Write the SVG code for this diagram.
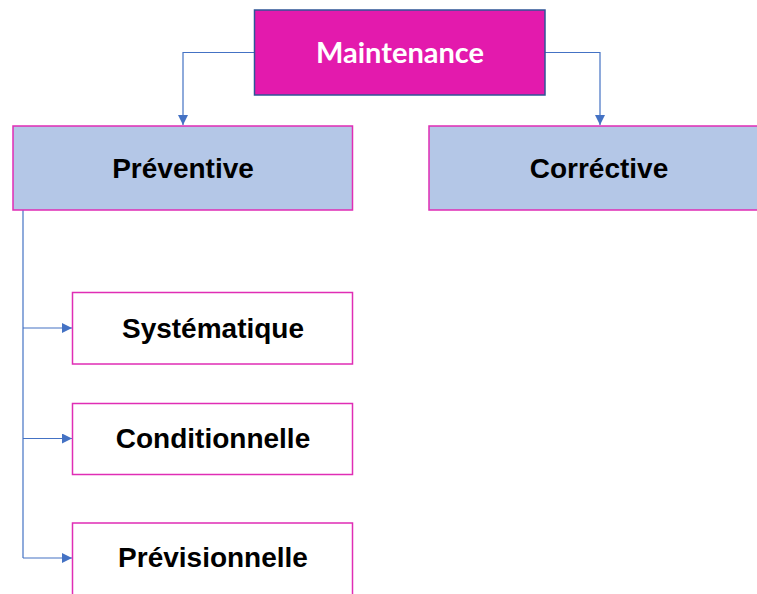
<svg xmlns="http://www.w3.org/2000/svg" width="757" height="594" viewBox="0 0 757 594">
  <style>
    .root { fill: #E31AAD; stroke: #2F5597; stroke-width: 1.5; }
    .branch { fill: #B4C7E7; stroke: #E02DB5; stroke-width: 1.5; }
    .leaf { fill: #FFFFFF; stroke: #E02DB5; stroke-width: 1.5; }
    .lbl { font-family: "Liberation Sans", Arial, sans-serif; font-weight: bold; font-size: 28px; fill: #000000; text-anchor: middle; }
    .rootlbl { font-family: Lato, "Open Sans", sans-serif; font-weight: bold; font-size: 29px; fill: #FFFFFF; text-anchor: middle; }
    .conn { fill: none; stroke: #4472C4; stroke-width: 1.2; }
  </style>
  <defs>
    <marker id="arrow" viewBox="0 0 10 10" refX="10" refY="5" markerWidth="10" markerHeight="10" markerUnits="userSpaceOnUse" orient="auto">
      <path d="M0,0 L10,5 L0,10 Z" fill="#4472C4"/>
    </marker>
  </defs>

  <g id="connectors">
    <path class="conn" d="M254.5,52.5 H183 V125" marker-end="url(#arrow)"/>
    <path class="conn" d="M545,52.5 H600 V125" marker-end="url(#arrow)"/>
    <path class="conn" d="M23,210 V558"/>
    <path class="conn" d="M23,328 H72" marker-end="url(#arrow)"/>
    <path class="conn" d="M23,438.5 H72" marker-end="url(#arrow)"/>
    <path class="conn" d="M23,558 H72" marker-end="url(#arrow)"/>
  </g>

  <g id="maintenance">
    <rect class="root" x="254.5" y="10" width="290.5" height="85"/>
    <text class="rootlbl" x="400" y="63">Maintenance</text>
  </g>

  <g id="preventive">
    <rect class="branch" x="13" y="126" width="339.5" height="84"/>
    <text class="lbl" x="183" y="178">Préventive</text>
  </g>

  <g id="corrective">
    <rect class="branch" x="429" y="126" width="340" height="84"/>
    <text class="lbl" x="599" y="178">Corréctive</text>
  </g>

  <g id="systematique">
    <rect class="leaf" x="72.5" y="292.5" width="280" height="71.5"/>
    <text class="lbl" x="213" y="338">Systématique</text>
  </g>

  <g id="conditionnelle">
    <rect class="leaf" x="72.5" y="403.5" width="280" height="71"/>
    <text class="lbl" x="213" y="448">Conditionnelle</text>
  </g>

  <g id="previsionnelle">
    <rect class="leaf" x="72.5" y="523" width="280" height="80"/>
    <text class="lbl" x="213" y="567">Prévisionnelle</text>
  </g>
</svg>
